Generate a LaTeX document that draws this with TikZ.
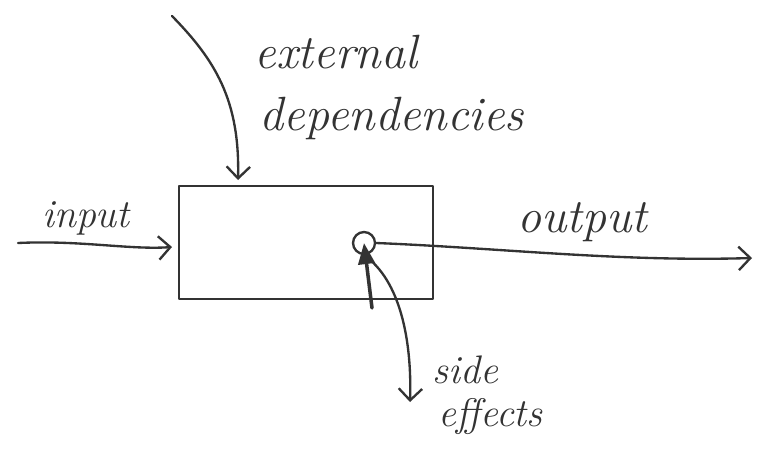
\documentclass[tikz,border=0pt]{standalone}
\usetikzlibrary{arrows.meta}
\begin{document}
\begin{tikzpicture}[x=0.03cm,y=-0.03cm,
  pen/.style={draw=black!80,line width=2pt,line cap=round,line join=round},
  barb/.style={-{Straight Barb[length=10pt,width=20pt,line width=2pt]}},
  hand/.style={font=\fontsize{34}{38}\selectfont\itshape,text=black!80,inner sep=0pt},
  bighand/.style={hand,font=\fontsize{41}{44}\selectfont\itshape}]
\useasboundingbox (0,0) rectangle (769,450);
% box
\node[pen,rectangle,minimum width=254*0.03cm,minimum height=113*0.03cm,anchor=north west] (box) at (178,185) {};
% circle for side effects
\node[pen,circle,minimum size=22*0.03cm,inner sep=0pt] (loop) at (364,243) {};
% free ends
\coordinate (inA) at (18,243);
\coordinate (inB) at (172,247);
\coordinate (exA) at (172,16);
\coordinate (exB) at (238,180);
\coordinate (outB) at (752,258);
\coordinate (seB) at (410,402);
\coordinate (stem) at (372,308);
% labels
\node[hand] (lin) at (86,218) {input};
\node[bighand] (lext) at (336,52) {external};
\node[bighand] (ldep) at (392,118) {dependencies};
\node[bighand] (lout) at (582,222) {output};
\node[hand,anchor=west] (lside) at (432,370) {side};
\node[hand,anchor=west] (leff) at (438,417) {effects};
% connectors
\draw[pen,barb] (inA) .. controls (80,240) and (130,250) .. (inB);
\draw[pen,barb] (exA) .. controls (215,60) and (240,100) .. (exB);
\draw[pen,barb] (loop.east) .. controls (500,248) and (620,262) .. (outB);
\draw[pen,barb] (loop.south) .. controls (400,280) and (412,340) .. (seB);
\draw[pen,line width=3pt,-{Triangle[length=18pt,width=14pt]}] (stem) -- (loop.center);
\end{tikzpicture}
\end{document}
